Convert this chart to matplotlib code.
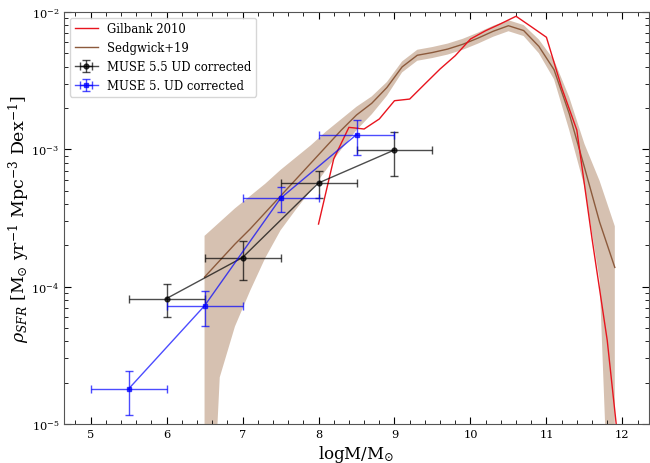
import numpy as np
import matplotlib
matplotlib.use("Agg")
import matplotlib.pyplot as plt
from matplotlib.ticker import AutoMinorLocator, LogLocator, NullFormatter

plt.rcParams['font.family'] = ['DejaVu Serif']
plt.rcParams['mathtext.fontset'] = 'dejavuserif'

# Gilbank 2010 (log10 rho)
gil_x = [8.0, 8.2, 8.4, 8.6, 8.8, 9.0, 9.2, 9.4, 9.6, 9.8, 10.0, 10.2, 10.4, 10.6,
         10.8, 11.0, 11.2, 11.4, 11.6, 11.8, 12.0]
gil_logy = [-3.544, -3.07, -2.84, -2.852, -2.779, -2.646, -2.634, -2.524, -2.415, -2.318,
            -2.197, -2.136, -2.085, -2.031, -2.107, -2.184, -2.55, -2.86, -3.65, -4.39, -5.42]

# Sedgwick+19 (log10 rho, band offsets in dex)
sed_x = [6.5, 6.7, 6.9, 7.1, 7.3, 7.5, 7.7, 7.9, 8.1, 8.3, 8.5, 8.7, 8.9, 9.1, 9.3, 9.5,
         9.7, 9.9, 10.1, 10.3, 10.5, 10.7, 10.9, 11.1, 11.3, 11.5, 11.7, 11.9]
sed_logy = [-3.93, -3.81, -3.69, -3.58, -3.46, -3.34, -3.22, -3.10, -2.98, -2.86, -2.75,
            -2.665, -2.55, -2.40, -2.315, -2.295, -2.27, -2.235, -2.19, -2.14, -2.10,
            -2.135, -2.25, -2.42, -2.74, -3.13, -3.53, -3.86]
sed_up = [0.30, 0.28, 0.26, 0.24, 0.21, 0.19, 0.16, 0.13, 0.11, 0.08, 0.06, 0.05, 0.04,
          0.04, 0.04, 0.04, 0.04, 0.04, 0.04, 0.04, 0.04, 0.04, 0.05, 0.07, 0.12, 0.17,
          0.30, 0.30]
sed_lo = [3.0, 0.85, 0.60, 0.45, 0.33, 0.25, 0.22, 0.20, 0.17, 0.14, 0.11, 0.08, 0.06,
          0.04, 0.04, 0.04, 0.04, 0.04, 0.04, 0.04, 0.04, 0.04, 0.05, 0.07, 0.12, 0.14,
          0.42, 3.0]

# MUSE 5.5 UD corrected
m55_x = [6, 7, 8, 9]
m55_y = [8.2e-5, 1.63e-4, 5.69e-4, 9.9e-4]
m55_yerr = [2.2e-5, 5.2e-5, 1.25e-4, 3.5e-4]
m55_xerr = [0.5, 0.5, 0.5, 0.5]

# MUSE 5. UD corrected
m5_x = [5.5, 6.5, 7.5, 8.5]
m5_y = [1.8e-5, 7.26e-5, 4.40e-4, 1.28e-3]
m5_yerr = [6.3e-6, 2.1e-5, 9.0e-5, 3.65e-4]
m5_xerr = [0.5, 0.5, 0.5, 0.5]

fig = plt.figure(figsize=(6.5, 4.64), dpi=100)
ax = fig.add_axes([64/650, 1-425/464, 585/650, 412/464])

sx = np.array(sed_x)
sl = np.array(sed_logy)
ax.fill_between(sx, 10**(sl - np.array(sed_lo)), 10**(sl + np.array(sed_up)),
                color='#d6c1b1', lw=0, zorder=1)
ax.plot(gil_x, 10**np.array(gil_logy), color='#e8141e', lw=1.0, label='Gilbank 2010', zorder=3)
ax.plot(sx, 10**sl, color='#8c5a3c', lw=1.0, label='Sedgwick+19', zorder=2)

ax.errorbar(m55_x, m55_y, yerr=m55_yerr, xerr=m55_xerr, color='black', marker='o',
            ms=3.5, lw=1.0, elinewidth=1.0, capsize=3, alpha=0.7,
            label='MUSE 5.5 UD corrected', zorder=4)
ax.errorbar(m5_x, m5_y, yerr=m5_yerr, xerr=m5_xerr, color='blue', marker='s',
            ms=3.5, lw=1.0, elinewidth=1.0, capsize=3, alpha=0.7,
            label='MUSE 5. UD corrected', zorder=5)

ax.set_yscale('log')
ax.set_ylim(1e-5, 1e-2)
ax.set_xlim(4.65, 12.35)
ax.xaxis.set_minor_locator(AutoMinorLocator(5))
ax.yaxis.set_major_locator(LogLocator(base=10, numticks=10))
ax.yaxis.set_minor_locator(LogLocator(base=10, subs=np.arange(2, 10), numticks=100))
ax.yaxis.set_minor_formatter(NullFormatter())
ax.tick_params(which='both', direction='in', top=True, right=True, labelsize=8.2)
ax.tick_params(which='major', length=5)
ax.tick_params(which='minor', length=3)
for s in ax.spines.values():
    s.set_color('#555555')

ax.set_xlabel(r'logM/M$_{\odot}$', fontsize=12, labelpad=3)
ax.set_ylabel(r'$\rho_{SFR}$ [M$_{\odot}$ yr$^{-1}$ Mpc$^{-3}$ Dex$^{-1}$]', fontsize=12.5)
ax.yaxis.set_label_coords(-0.055, 0.5)

ax.legend(loc='upper left', fontsize=8.4, frameon=True)

fig.savefig('out.png', dpi=100)
